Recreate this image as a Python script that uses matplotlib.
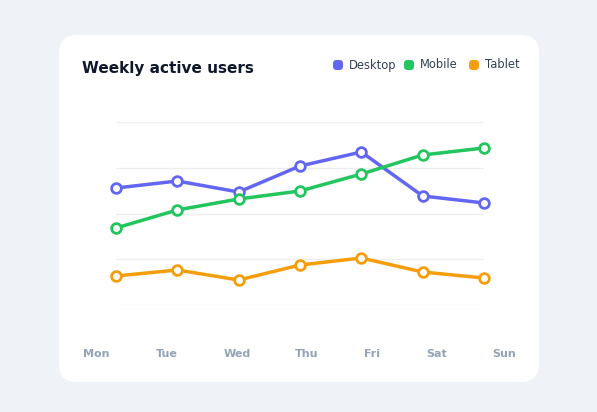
import matplotlib
matplotlib.use("Agg")
import matplotlib.pyplot as plt
from matplotlib.patches import FancyBboxPatch

days = ["Mon", "Tue", "Wed", "Thu", "Fri", "Sat", "Sun"]
desktop = [2557, 2710, 2470, 3038, 3344, 2383, 2230]
mobile = [1683, 2077, 2317, 2492, 2863, 3279, 3432]
tablet = [634, 765, 546, 874, 1027, 721, 590]
series = [("Desktop", desktop, "#6366f1"), ("Mobile", mobile, "#22c55e"), ("Tablet", tablet, "#f59e0b")]

W, H = 597, 412
fig = plt.figure(figsize=(W/100, H/100), dpi=100)
fig.patch.set_facecolor("#eff3f8")
card = FancyBboxPatch((59/W, (H-382)/H), 480/W, 347/H, boxstyle="round,pad=0,rounding_size=0.03",
                      transform=fig.transFigure, facecolor="white", edgecolor="none", zorder=-5,
                      mutation_aspect=W/H)
fig.patches.append(card)

ax = fig.add_axes([116/W, (H-305)/H, 368/W, 183/H])
ax.set_zorder(2)
ax.set_facecolor("none")
x = list(range(len(days)))
for name, vals, c in series:
    ax.plot(x, vals, color=c, lw=2.5, marker="o", ms=7, mfc="white", mec=c, mew=2, zorder=3, clip_on=False)
ax.set_xlim(0, 6)
ax.set_ylim(0, 4000)
ax.set_yticks([0, 1000, 2000, 3000, 4000])
ax.grid(axis="y", color="#eceef1", lw=1)
ax.tick_params(left=False, bottom=False, labelleft=False, labelbottom=False)
for s in ax.spines.values():
    s.set_visible(False)

label_x = [96, 167, 237, 307, 372, 437, 504]
for d, lx in zip(days, label_x):
    fig.text(lx/W, (H-354)/H, d, ha="center", va="center", fontsize=8, color="#94a3b8", fontweight="bold")

fig.text(82/W, (H-69)/H, "Weekly active users", ha="left", va="center", fontsize=11, fontweight="bold", color="#0f172a")

leg = [(333, "Desktop", "#6366f1"), (404, "Mobile", "#22c55e"), (469, "Tablet", "#f59e0b")]
for lx, name, c in leg:
    fig.patches.append(FancyBboxPatch(((lx)/W, (H-70)/H), 10/W, 10/H, boxstyle="round,pad=0,rounding_size=0.006",
                                      transform=fig.transFigure, facecolor=c, edgecolor="none", mutation_aspect=W/H))
    fig.text((lx+16)/W, (H-65)/H, name, ha="left", va="center", fontsize=8.3, color="#334155")

fig.savefig("out.png", dpi=100, facecolor=fig.get_facecolor())
